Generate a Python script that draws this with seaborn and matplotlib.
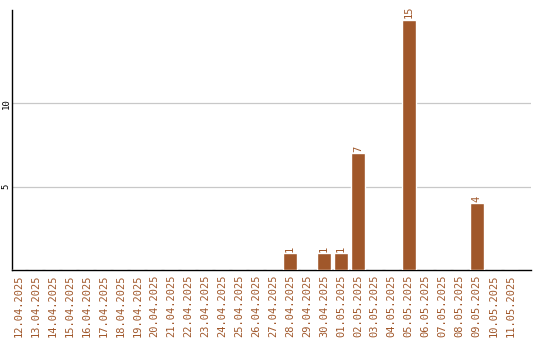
import matplotlib
matplotlib.use("Agg")
import matplotlib.pyplot as plt
import seaborn as sns
import pandas as pd

dates = ["12.04.2025", "13.04.2025", "14.04.2025", "15.04.2025", "16.04.2025",
         "17.04.2025", "18.04.2025", "19.04.2025", "20.04.2025", "21.04.2025",
         "22.04.2025", "23.04.2025", "24.04.2025", "25.04.2025", "26.04.2025",
         "27.04.2025", "28.04.2025", "29.04.2025", "30.04.2025", "01.05.2025",
         "02.05.2025", "03.05.2025", "04.05.2025", "05.05.2025", "06.05.2025",
         "07.05.2025", "08.05.2025", "09.05.2025", "10.05.2025", "11.05.2025"]
counts = [0, 0, 0, 0, 0, 0, 0, 0, 0, 0, 0, 0, 0, 0, 0, 0,
          1, 0, 1, 1, 7, 0, 0, 15, 0, 0, 0, 4, 0, 0]
yticks = [5, 10]

sns.set_theme(style="white")
plt.rcParams['font.family'] = ['DejaVu Sans Mono', 'DejaVu Sans']

bar_color = "#A0572A"
df = pd.DataFrame({"date": dates, "count": counts})

fig = plt.figure(figsize=(5.4, 3.4), dpi=100)
ax = fig.add_axes([12/540, 70/340, 519/540, 260/340])
sns.barplot(data=df, x="date", y="count", color=bar_color, width=0.82,
            saturation=1, ax=ax, zorder=3)

ax.set_xlim(-0.38, 30.2)
ax.set_ylim(0, 15.6)
ax.set_yticks(yticks)
ax.set_yticklabels([str(v) for v in yticks], rotation=90, va="center",
                   fontsize=6.5, color="black")
ax.yaxis.grid(True, color="#c8c8c8", linewidth=0.9, zorder=0)
ax.xaxis.grid(False)
ax.tick_params(axis="x", labelrotation=90, labelsize=7.5, colors=bar_color,
               length=0, pad=3)
ax.tick_params(axis="y", length=0, pad=1)
for lab in ax.get_xticklabels():
    lab.set_color(bar_color)
ax.set_xlabel("")
ax.set_ylabel("")
for s in ["top", "right"]:
    ax.spines[s].set_visible(False)
for s in ["left", "bottom"]:
    ax.spines[s].set_color("black")
    ax.spines[s].set_linewidth(1)

for i, v in enumerate(counts):
    if v > 0:
        ax.text(i, v + 0.1, str(v), rotation=90, ha="center", va="bottom",
                fontsize=7.5, color=bar_color)

fig.savefig("out.png", dpi=100)
